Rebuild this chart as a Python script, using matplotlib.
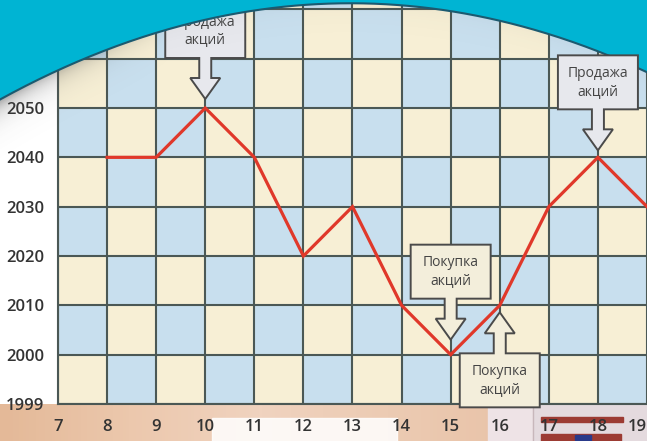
import numpy as np
import matplotlib.pyplot as plt
from matplotlib.colors import ListedColormap, LinearSegmentedColormap
from matplotlib.patches import Polygon, Rectangle

plt.rcParams['font.family'] = ['Open Sans', 'DejaVu Sans']

# data
days = [8, 9, 10, 11, 12, 13, 14, 15, 16, 17, 18, 19]
prices = [2040, 2040, 2050, 2040, 2020, 2030, 2010, 2000, 2010, 2030, 2040, 2030]
x_ticks = list(range(7, 20))
y_ticks = [1990, 2000, 2010, 2020, 2030, 2040, 2050]
y_labels = ['1999', '2000', '2010', '2020', '2030', '2040', '2050']

# callouts: (day, price, text, arrow direction)
callouts = [
    (10, 2050, 'Продажа\nакций', 'down'),
    (18, 2040, 'Продажа\nакций', 'down'),
    (15, 2000, 'Покупка\nакций', 'down'),
    (16, 2010, 'Покупка\nакций', 'up'),
]
callout_gap = [9, 7, 15, 7]
callout_fill = ['#e7e8ed', '#e7e8ed', '#f3eedb', '#f3eedb']
callout_z = [1, 5, 5, 5]

W, H = 647, 441
fig = plt.figure(figsize=(W / 100, H / 100), dpi=100)
fig.patch.set_facecolor('white')

# bottom strip behind the day labels
bg = fig.add_axes([0, 0, 1, (H - 404) / H], zorder=0)
bg.set_xlim(0, W)
bg.set_ylim(H, 404)
bg.axis('off')
peach = LinearSegmentedColormap.from_list(
    'peach', ['#e4b998', '#ecc8ad', '#f0d3bf', '#eccbb3', '#e9c3a8', '#ead9d8'])
bg.imshow(np.linspace(0, 1, 200)[None, :], cmap=peach, aspect='auto',
          extent=(0, W, H, 404))
bg.add_patch(Rectangle((212, 418), 185, 30, color='white', alpha=0.85))
bg.add_patch(Rectangle((488, 404), 45, 40, color='#eee3e6'))
bg.add_patch(Rectangle((533, 404), 114, 40, color='#e4dade'))
bg.add_patch(Rectangle((541, 417), 82, 5, color='#9c3b33'))
bg.add_patch(Rectangle((541, 434), 80, 7, color='#9c3b33'))
bg.add_patch(Rectangle((575, 435), 16, 5, color='#2a3a8a'))
bg.plot([533, 533], [404, 441], color='#c8b7bb', lw=1)

# main chart
ax = fig.add_axes([58 / W, 1 - 404 / H, (W - 58) / W, 404 / H], zorder=1)
ax.set_xlim(7, 19)
ax.set_ylim(1990, 2050 + 108 / 49.33 * 10)

xe = np.arange(7, 20)
ye = np.arange(1990, 2090, 10)
cells = (np.add.outer(np.arange(len(ye) - 1), np.arange(len(xe) - 1)) % 2)
ax.pcolormesh(xe, ye, cells, cmap=ListedColormap(['#f7efd5', '#c8dfee']),
              zorder=0)

ax.set_xticks(x_ticks)
ax.set_yticks(y_ticks)
ax.set_yticklabels(y_labels)
ax.set_yticks([2060, 2070], minor=True)
ax.set_axisbelow(True)
ax.grid(which='both', color='#4b5855', lw=1.5)
ax.tick_params(which='both', length=0)
ax.tick_params(axis='y', pad=10, labelsize=12, labelcolor='#333333')
ax.tick_params(axis='x', pad=11, labelsize=12, labelcolor='#333333')
for lab in ax.get_xticklabels() + ax.get_yticklabels():
    lab.set_fontweight('semibold')
ax.get_xticklabels()[-1].set_horizontalalignment('right')
for side in ['top', 'right']:
    ax.spines[side].set_visible(False)
for side in ['left', 'bottom']:
    ax.spines[side].set_color('#4b5855')
    ax.spines[side].set_linewidth(1.5)

ax.plot(days, prices, color='#e0382a', lw=2.3, zorder=3, solid_joinstyle='miter')

# overlay in pixel coordinates (top-down)
ov = fig.add_axes([0, 0, 1, 1], zorder=3)
ov.set_xlim(0, W)
ov.set_ylim(H, 0)
ov.axis('off')

# curved banner on top
arc_x = [0, 57, 110, 167, 233, 320, 420, 503, 553, 603, 647]
arc_y = [97, 72, 50, 30, 15, 4, 7, 20, 33, 53, 75]
coef = np.polyfit(arc_x, arc_y, 2)
xs = np.linspace(0, W, 400)
ys = np.polyval(coef, xs)

# shadow under the banner
gx, gy = np.meshgrid(np.arange(W) + 0.5, np.arange(H) + 0.5)
d = gy - np.polyval(coef, gx)
fade = np.clip(1 - gx / 170, 0, 1) * 0.85 + 0.08
alpha = np.where(d > 0, 0.55 * np.exp(-d / 12) * fade, 0)
shadow = np.zeros((H, W, 4))
shadow[..., :3] = 0.3
shadow[..., 3] = alpha
ov.imshow(shadow, extent=(0, W, H, 0), zorder=2, interpolation='bilinear')

ov.fill_between(xs, -5, ys, color='#00b4d3', zorder=3, lw=0)
ov.plot(xs, ys, color='#1b5a70', lw=1.5, zorder=3)


def callout(tx, ty, direction, fill, z, text):
    s = 1 if direction == 'down' else -1
    hl, hw, sw, sl, bw, bh = 21, 15, 6, 20, 80, 54
    hb = ty - s * hl
    yb = hb - s * sl
    yt = yb - s * bh
    pts = [(tx, ty), (tx + hw, hb), (tx + sw, hb), (tx + sw, yb),
           (tx + bw / 2, yb), (tx + bw / 2, yt), (tx - bw / 2, yt),
           (tx - bw / 2, yb), (tx - sw, yb), (tx - sw, hb), (tx - hw, hb)]
    ov.add_patch(Polygon(pts, closed=True, facecolor=fill, edgecolor='#4a4a4a',
                         lw=1.4, zorder=z, joinstyle='miter'))
    ov.text(tx, (yb + yt) / 2, text, ha='center', va='center', fontsize=10,
            color='#444444', linespacing=1.25, zorder=z)


for (cx, cy, txt, direction), gap, fill, z in zip(callouts, callout_gap,
                                                    callout_fill, callout_z):
    px, py = ax.transData.transform((cx, cy))
    py = H - py
    ty = py - gap if direction == 'down' else py + gap
    callout(px, ty, direction, fill, z, txt)

fig.savefig('out.png', dpi=100)
